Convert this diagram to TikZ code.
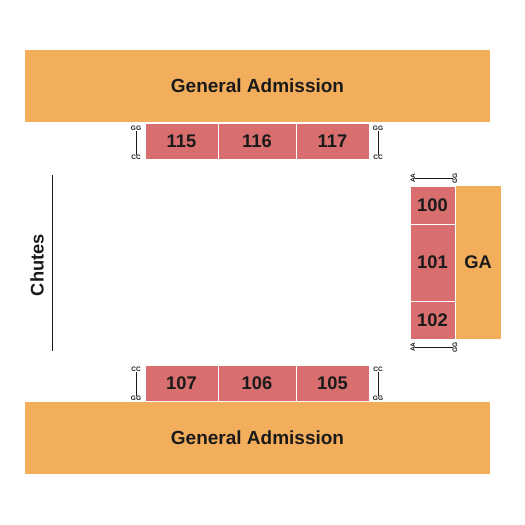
\documentclass[tikz,border=0pt]{standalone}
\usepackage{fontspec}
\setmainfont{Liberation Sans}
\definecolor{gaorange}{HTML}{F3AE5C}
\definecolor{secred}{HTML}{D86F6E}
\definecolor{ink}{HTML}{1A1A1A}
\begin{document}
\begin{tikzpicture}[x=1pt,y=-1pt,
  garect/.style={fill=gaorange,draw=none,inner sep=0pt,outer sep=0pt,anchor=north west,text=ink,font=\bfseries\fontsize{19}{21}\selectfont},
  secrect/.style={fill=secred,draw=white,line width=0.8pt,inner sep=0pt,outer sep=0pt,anchor=north west,text=ink,font=\bfseries\fontsize{18.3}{20}\selectfont},
  tiny/.style={inner sep=0pt,text=ink,font=\bfseries\fontsize{6.5}{6.5}\selectfont},
  tick/.style={draw=ink,line width=0.7pt}]
\fill[white] (0,0) rectangle (525,525);
\useasboundingbox (0,0) rectangle (525,525);
% General admission
\node[garect,minimum width=465pt,minimum height=72pt] (gatop) at (25,50) {General Admission};
\node[garect,minimum width=465pt,minimum height=72pt] (gabot) at (25,402) {General Admission};
% top sections
\node[secrect,minimum width=73pt,minimum height=36pt] (s115) at (145,123) {115};
\node[secrect,minimum width=78pt,minimum height=36pt] (s116) at (218,123) {116};
\node[secrect,minimum width=73pt,minimum height=36pt] (s117) at (296,123) {117};
% bottom sections
\node[secrect,minimum width=73pt,minimum height=36pt] (s107) at (145,365) {107};
\node[secrect,minimum width=78pt,minimum height=36pt] (s106) at (218,365) {106};
\node[secrect,minimum width=73pt,minimum height=36pt] (s105) at (296,365) {105};
% right block
\node[garect,minimum width=46pt,minimum height=153pt,font=\bfseries\fontsize{18.3}{20}\selectfont] (garight) at (455,186) {GA};
\node[secrect,minimum width=45pt,minimum height=38pt] (s100) at (410,186) {100};
\node[secrect,minimum width=45pt,minimum height=77pt] (s101) at (410,224) {101};
\node[secrect,minimum width=45pt,minimum height=38pt] (s102) at (410,301) {102};
% small row labels
\node[tiny] (tlg) at (136,128) {GG};
\node[tiny] (tlc) at (136,157) {CC};
\draw[tick] (tlg.south) -- (tlc.north);
\node[tiny] (trg) at (378,128) {GG};
\node[tiny] (trc) at (378,157) {CC};
\draw[tick] (trg.south) -- (trc.north);
\node[tiny] (blc) at (136,369) {CC};
\node[tiny] (blg) at (136,398) {GG};
\draw[tick] (blc.south) -- (blg.north);
\node[tiny] (brc) at (378,369) {CC};
\node[tiny] (brg) at (378,398) {GG};
\draw[tick] (brc.south) -- (brg.north);
\node[tiny,rotate=90] (ra1) at (413,178) {AA};
\node[tiny,rotate=90] (rg1) at (455,178) {GG};
\draw[tick] (ra1.south) -- (rg1.north);
\node[tiny,rotate=90] (ra2) at (413,347) {AA};
\node[tiny,rotate=90] (rg2) at (455,347) {GG};
\draw[tick] (ra2.south) -- (rg2.north);
% chutes
\coordinate (ch1) at (52,175);
\coordinate (ch2) at (52,351);
\draw[draw=ink,line width=0.9pt] (ch1) -- (ch2);
\node[rotate=90,text=ink,inner sep=0pt,font=\fontsize{18.3}{20}\selectfont\bfseries] (chutes) at (37,265) {Chutes};
\end{tikzpicture}
\end{document}
